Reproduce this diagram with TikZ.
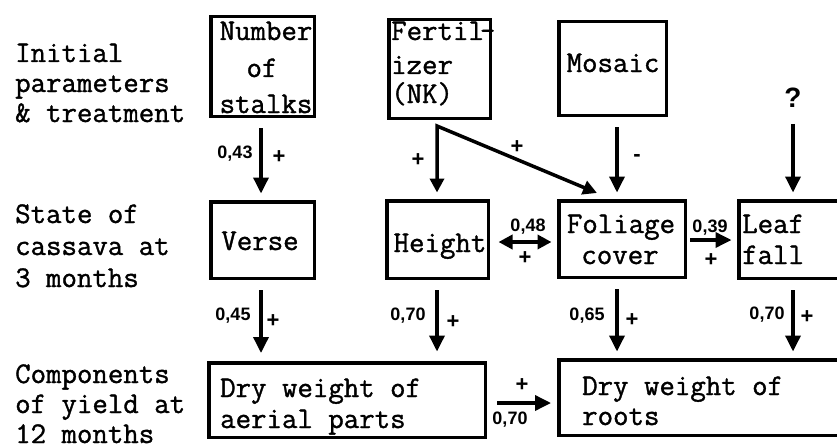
\documentclass[tikz,border=0pt]{standalone}
\usepackage{fontspec}
\newfontfamily\numfont{Liberation Sans}
\newfontfamily\typw{Latin Modern Mono}[FakeBold=1.2]
\usetikzlibrary{arrows.meta,calc}
\begin{document}
\begin{tikzpicture}[x=1pt,y=-1pt,
  box/.style={draw, line width=3.5pt, inner sep=0pt},
  tt/.style={font=\typw\fontsize{30}{30}\selectfont, inner sep=0pt},
  num/.style={font=\numfont\bfseries\fontsize{18}{18}\selectfont, inner sep=0pt},
  sgn/.style={font=\numfont\bfseries\fontsize{22}{22}\selectfont, inner sep=0pt},
  arr/.style={line width=3.5pt, -{Triangle[length=16pt,width=15pt]}},
  dblarr/.style={line width=3.5pt, {Triangle[length=14pt,width=14pt]}-{Triangle[length=14pt,width=14pt]}}]
\useasboundingbox (0,0) rectangle (837,444);
\clip (0,0) rectangle (837,444);

% boxes
\node[box, minimum width=103.5pt, minimum height=99.5pt] (stalks) at (262.5,66.5) {};
\node[box, minimum width=101.5pt, minimum height=98.5pt] (fert) at (439.5,69) {};
\node[box, minimum width=107.5pt, minimum height=93.5pt] (mosaic) at (612.5,68.5) {};
\node[box, minimum width=103.5pt, minimum height=76.5pt] (verse) at (262.5,240) {};
\node[box, minimum width=101.5pt, minimum height=77.5pt] (height) at (437.5,239.5) {};
\node[box, minimum width=126.5pt, minimum height=76.5pt] (foliage) at (622,239) {};
\node[box, minimum width=129.5pt, minimum height=77.5pt] (leaf) at (803.5,239.5) {};
\node[box, minimum width=276.5pt, minimum height=74.5pt] (aerial) at (347,400) {};
\node[box, minimum width=309.5pt, minimum height=75.5pt] (roots) at (713.5,397.5) {};

% left labels
\node[tt, anchor=base west] (r1a) at (15,62) {Initial};
\node[tt, anchor=base west] (r1b) at (15,92) {parameters};
\node[tt, anchor=base west] (r1c) at (15,122) {\& treatment};
\node[tt, anchor=base west] (r2a) at (15,223) {State of};
\node[tt, anchor=base west] (r2b) at (15,255) {cassava at};
\node[tt, anchor=base west] (r2c) at (15,287) {3 months};
\node[tt, anchor=base west] (r3a) at (15,383) {Components};
\node[tt, anchor=base west] (r3b) at (15,413) {of yield at};
\node[tt, anchor=base west] (r3c) at (15,443) {12 months};

% box texts
\node[tt, anchor=base] (ta) at (266,40) {Number};
\node[tt, anchor=base] (tb) at (262,77) {of};
\node[tt, anchor=base] (tc) at (266,113) {stalks};
\node[tt, anchor=base west] (fa) at (391,40) {Fertil\kern-4pt-};
\node[tt, anchor=base west] (fb) at (391,74) {izer};
\node[tt, anchor=base west] (fc) at (391,103) {(NK)};
\node[tt, anchor=base] (ma) at (613,72) {Mosaic};
\node[tt, anchor=base] (va) at (260,250) {Verse};
\node[tt, anchor=base] (ha) at (440,252) {Height};
\node[tt, anchor=base] (foa) at (621,233) {Foliage};
\node[tt, anchor=base] (fob) at (620,264) {cover};
\node[tt, anchor=base west] (la) at (742,233) {Leaf};
\node[tt, anchor=base west] (lb) at (742,264) {fall};
\node[tt, anchor=base west] (aa) at (220,397) {Dry weight of};
\node[tt, anchor=base west] (ab) at (220,428) {aerial parts};
\node[tt, anchor=base west] (ra) at (582,395) {Dry weight of};
\node[tt, anchor=base west] (rb) at (582,425) {roots};

% question mark
\node[font=\numfont\bfseries\fontsize{28}{28}\selectfont, inner sep=0pt] (q) at (793,98) {?};

% connectors
\draw[arr] ($(stalks.south)+(-1.5,10)$) -- ($(stalks.south |- verse.north)+(-1.5,-6.5)$);
\coordinate (fk) at ($(height.north)+(-0.5,-73)$);
\coordinate (fdiag) at ($(foliage.north)+(-25,-6)$);
\draw[dblarr, line join=miter] ($(height.north)+(-0.5,-6.5)$) -- (fk) -- (fdiag);
\draw[arr] ($(mosaic.south)+(4.5,10)$) -- ($(mosaic.south |- foliage.north)+(4.5,-6.5)$);
\draw[arr] ($(q.south)+(0,16)$) -- ($(q.south |- leaf.north)+(0,-6.5)$);

\draw[arr] ($(verse.south)+(-1.5,10)$) -- ($(verse.south |- aerial.north)+(-1.5,-8)$);
\draw[arr] ($(height.south)+(-0.5,10)$) -- ($(height.south |- aerial.north)+(-0.5,-9.5)$);
\draw[arr] ($(foliage.south)+(-5,10)$) -- ($(foliage.south |- roots.north)+(-5,-6.5)$);
\draw[arr] ($(leaf.south)+(-10.5,10)$) -- ($(leaf.south |- roots.north)+(-10.5,-6.5)$);

\draw[dblarr] ($(height.east)+(8.5,2.5)$) -- ($(foliage.west)+(-5.5,3)$);
\draw[arr] ($(foliage.east)+(3,1)$) -- ($(leaf.west)+(-5.5,0.5)$);
\draw[arr] ($(aerial.east)+(10,3)$) -- ($(roots.west)+(-6,5.5)$);

% connector labels
\node[num] (n1) at (235,154) {0,43};
\node[sgn] (p1) at (279,157) {+};
\node[sgn] (p2) at (418,160) {+};
\node[sgn] (p3) at (517,147) {+};
\node[sgn] (m1) at (637,158) {-};
\node[num] (n2) at (528,227) {0,48};
\node[sgn] (p4) at (525,258) {+};
\node[num] (n3) at (710,228) {0,39};
\node[sgn] (p5) at (711,260) {+};
\node[num] (n4) at (233,316) {0,45};
\node[sgn] (p6) at (273,321) {+};
\node[num] (n5) at (408,316) {0,70};
\node[sgn] (p7) at (453,322) {+};
\node[num] (n6) at (587,316) {0,65};
\node[sgn] (p8) at (632,320) {+};
\node[num] (n7) at (767,315) {0,70};
\node[sgn] (p9) at (807,317) {+};
\node[sgn] (p10) at (522,385) {+};
\node[num] (n8) at (510,420) {0,70};
\end{tikzpicture}
\end{document}
